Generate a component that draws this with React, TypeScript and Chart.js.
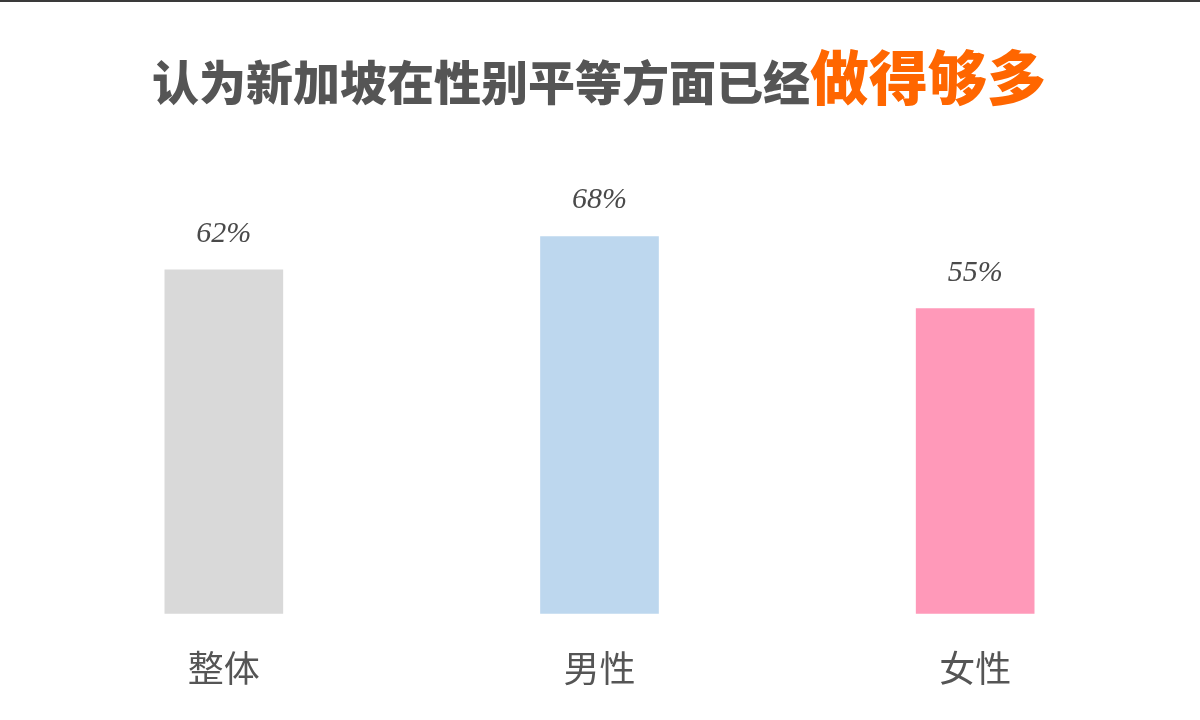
import * as React from 'react';
import { useEffect, useRef } from 'react';
import { Chart, registerables } from 'chart.js';

Chart.register(...registerables);

const categories = ['整体', '男性', '女性'];
const shares = [62, 68, 55];
const barColors = ['#d9d9d9', '#bdd7ee', '#ff99b9'];
const titleMain = '认为新加坡在性别平等方面已经';
const titleHighlight = '做得够多';

// draws "62%" style labels above each bar
const valueLabels = {
  id: 'valueLabels',
  afterDatasetsDraw(chart: any) {
    const { ctx } = chart;
    const meta = chart.getDatasetMeta(0);
    ctx.save();
    ctx.font = 'italic 30px "Liberation Serif", "DejaVu Serif", serif';
    ctx.fillStyle = '#4a4a4a';
    ctx.textAlign = 'center';
    ctx.textBaseline = 'middle';
    meta.data.forEach((bar: any, i: number) => {
      ctx.fillText(shares[i] + '%', bar.x, bar.y - 36);
    });
    ctx.restore();
  }
};

const BarChart = () => {
  const canvasRef = useRef<HTMLCanvasElement>(null);

  useEffect(() => {
    if (!canvasRef.current) return;
    const chart = new Chart(canvasRef.current, {
      type: 'bar',
      data: {
        labels: categories,
        datasets: [{
          data: shares,
          backgroundColor: barColors,
          borderWidth: 0,
          barThickness: 118
        }]
      },
      options: {
        animation: false,
        responsive: false,
        devicePixelRatio: 1,
        layout: { padding: { left: 36, right: 37, top: 59, bottom: 0 } },
        plugins: {
          legend: { display: false },
          tooltip: { enabled: false },
          title: { display: false }
        },
        scales: {
          x: {
            grid: { display: false, drawTicks: false },
            border: { display: false },
            ticks: {
              color: '#555555',
              padding: 33,
              font: { size: 36, family: '"Noto Sans CJK SC", "Noto Sans", sans-serif' }
            }
          },
          y: {
            display: false,
            min: 0,
            max: 100
          }
        }
      },
      plugins: [valueLabels]
    });
    return () => chart.destroy();
  }, []);

  return <canvas ref={canvasRef} width={1200} height={723} style={{ position: 'absolute', left: 0, top: 0 }} />;
};

export default function App() {
  return (
    <div style={{ position: 'fixed', left: 0, top: 0, width: 1200, height: 720, background: '#fff', overflow: 'hidden' }}>
      <div style={{ position: 'absolute', left: 0, top: 0, width: 1200, height: 2, background: '#3a3a3a', zIndex: 1 }} />
      <BarChart />
      <div
        style={{
          position: 'absolute',
          left: 152,
          top: 45,
          whiteSpace: 'nowrap',
          fontFamily: '"Noto Sans CJK SC", sans-serif',
          fontWeight: 900,
          lineHeight: 1,
          display: 'flex',
          alignItems: 'baseline'
        }}
      >
        <span style={{ fontSize: 47, color: '#555555' }}>{titleMain}</span>
        <span style={{ fontSize: 59, color: '#ff6600' }}>{titleHighlight}</span>
      </div>
    </div>
  );
}
